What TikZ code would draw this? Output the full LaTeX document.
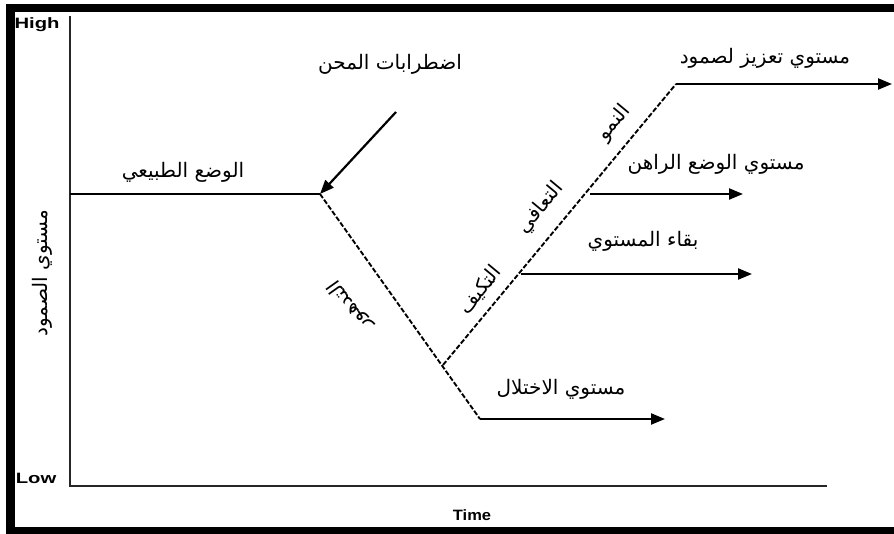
\documentclass[tikz,border=0pt]{standalone}
\usepackage{fontspec}
\setmainfont{Liberation Sans}
\newfontfamily\arabicfont[Script=Arabic]{DejaVu Sans}
\TeXXeTstate=1
\usetikzlibrary{arrows.meta}
\tikzset{
  axisline/.style={line width=1.8pt, black!85},
  levelarrow/.style={line width=2.2pt, -{Triangle[length=14pt,width=11pt]}},
  plainline/.style={line width=2.2pt},
  dashline/.style={line width=1.9pt, dash pattern=on 5pt off 2pt},
  artext/.style={font=\arabicfont\fontsize{20}{22}\selectfont, inner sep=0pt},
  axtext/.style={font=\bfseries\fontsize{15}{17}\selectfont, inner sep=0pt},
}
\newcommand{\ar}[1]{\beginR #1\endR}
\begin{document}
\begin{tikzpicture}[x=1pt,y=-1pt]
\useasboundingbox (0,0) rectangle (894,534);
% frame
\fill (6,4) rectangle (894,12);
\fill (6,4) rectangle (15,534);
\fill (6,527) rectangle (894,534);
% axes
\coordinate (ytop) at (70,16);
\coordinate (orig) at (70,486);
\coordinate (xend) at (827,486);
\draw[axisline] (ytop) -- (orig) -- (xend);
\node[axtext, xscale=1.35] (high) at (37,25) {High};
\node[axtext, xscale=1.35] (low) at (36,478) {Low};
\node[axtext, xscale=1.1] (time) at (472,515) {Time};
\node[artext, rotate=90] (ylab) at (42,273) {\ar{مستوي الصمود}};
% key points
\coordinate (n0) at (70,194);
\coordinate (d) at (320,194);
\coordinate (k) at (443,365);
\coordinate (b) at (480,419);
\coordinate (bend) at (665,419);
\coordinate (t) at (676,84);
\coordinate (tend) at (892,84);
\coordinate (m) at (590,194);
\coordinate (mend) at (743,194);
\coordinate (l) at (521,274);
\coordinate (lend) at (752,274);
\coordinate (dist) at (396,112);
% normal state
\draw[plainline] (n0) -- (d);
\node[artext] (normal) at (183,172) {\ar{الوضع الطبيعي}};
% disturbance
\draw[levelarrow] (dist) -- (d);
\node[artext] (adv) at (390,64) {\ar{اضطرابات المحن}};
% decline
\draw[dashline] (d) -- (b);
\node[artext, rotate=125.4] (det) at (350,306) {\ar{التدهور}};
\draw[levelarrow] (b) -- (bend);
\node[artext] (dys) at (561,389) {\ar{مستوي الاختلال}};
% rise
\draw[dashline] (k) -- (t);
\draw[levelarrow] (t) -- (tend);
\node[artext] (enh) at (765,58) {\ar{مستوي تعزيز لصمود}};
\draw[levelarrow] (m) -- (mend);
\node[artext] (cur) at (716,164) {\ar{مستوي الوضع الراهن}};
\draw[levelarrow] (l) -- (lend);
\node[artext] (keep) at (643,241) {\ar{بقاء المستوي}};
\node[artext, rotate=50.3] (adapt) at (480,290) {\ar{التكيف}};
\node[artext, rotate=50.3] (rec) at (541,208) {\ar{التعافي}};
\node[artext, rotate=50.3] (grow) at (614,123) {\ar{النمو}};
\end{tikzpicture}
\end{document}
